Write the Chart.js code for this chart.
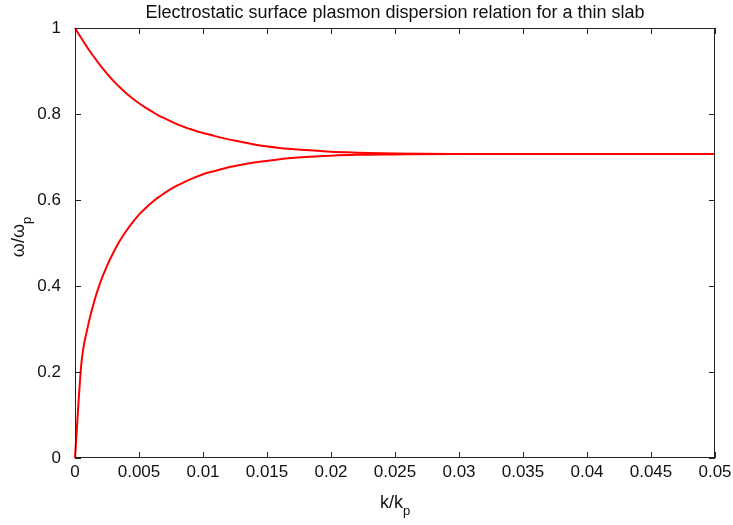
<!DOCTYPE html>
<html>
<head>
<meta charset="utf-8">
<script src="https://cdn.jsdelivr.net/npm/chart.js@4.4.1/dist/chart.umd.min.js"></script>
<style>
  html, body { margin: 0; padding: 0; background: #fff; }
  #wrap { width: 733px; height: 525px; }
</style>
</head>
<body>
<div id="wrap"><canvas id="plot"></canvas></div>
<script>
// k/kp sample points and the two branches
var ks = [0, 0.0005, 0.001, 0.0015, 0.002, 0.0025, 0.003, 0.0035, 0.004, 0.0045,
          0.005, 0.0055, 0.006, 0.0065, 0.007, 0.0075, 0.008, 0.0085, 0.009, 0.0095,
          0.01, 0.011, 0.012, 0.013, 0.014, 0.016, 0.018, 0.02, 0.022, 0.025,
          0.03, 0.035, 0.04, 0.045, 0.05];
var lowerBranch = [0, 0.22, 0.305, 0.364, 0.41, 0.447, 0.478, 0.505, 0.528, 0.548,
                   0.566, 0.581, 0.594, 0.606, 0.616, 0.626, 0.634, 0.641, 0.648, 0.654,
                   0.66, 0.668, 0.676, 0.682, 0.687, 0.695, 0.700, 0.703, 0.705, 0.706,
                   0.707, 0.707, 0.707, 0.707, 0.707];
var upperBranch = [1, 0.976, 0.953, 0.932, 0.912, 0.894, 0.877, 0.862, 0.848, 0.836,
                   0.825, 0.815, 0.806, 0.797, 0.79, 0.783, 0.776, 0.77, 0.765, 0.76,
                   0.756, 0.748, 0.741, 0.735, 0.729, 0.721, 0.716, 0.712, 0.710, 0.708,
                   0.7072, 0.7071, 0.7071, 0.7071, 0.7071];
var xTicks = [0, 0.005, 0.01, 0.015, 0.02, 0.025, 0.03, 0.035, 0.04, 0.045, 0.05];
var yTicks = [0, 0.2, 0.4, 0.6, 0.8, 1];

var FONT = '"Liberation Sans", Arial, Helvetica, sans-serif';

function pts(ys) {
    return ks.map(function (k, i) { return { x: k, y: ys[i] }; });
}
function fmt(v) { return String(+v.toFixed(4)); }

// box, inward ticks on all four sides, title and axis labels with subscripts
var frame = {
    id: 'frame',
    afterDraw: function (chart) {
        var c = chart.ctx, a = chart.chartArea;
        var sx = chart.scales.x, sy = chart.scales.y;
        c.save();
        c.strokeStyle = '#222';
        c.lineWidth = 1;
        c.strokeRect(a.left + 0.5, a.top + 0.5, a.right - a.left - 1, a.bottom - a.top - 1);
        c.beginPath();
        xTicks.forEach(function (v) {
            var x = Math.round(sx.getPixelForValue(v)) + 0.5;
            c.moveTo(x, a.bottom); c.lineTo(x, a.bottom - 6);
            c.moveTo(x, a.top); c.lineTo(x, a.top + 6);
        });
        yTicks.forEach(function (v) {
            var y = Math.round(sy.getPixelForValue(v)) + 0.5;
            c.moveTo(a.left, y); c.lineTo(a.left + 6, y);
            c.moveTo(a.right, y); c.lineTo(a.right - 6, y);
        });
        c.stroke();

        c.fillStyle = '#111';
        c.textBaseline = 'middle';
        c.textAlign = 'center';
        c.font = '18px ' + FONT;
        c.fillText('Electrostatic surface plasmon dispersion relation for a thin slab', (a.left + a.right) / 2, 13);

        // x title: k/kp
        c.font = '18px ' + FONT;
        var main = 'k/k', w1 = c.measureText(main).width;
        c.font = '13px ' + FONT;
        var w2 = c.measureText('p').width;
        var x0 = (a.left + a.right) / 2 - (w1 + w2) / 2;
        c.textAlign = 'left';
        c.font = '18px ' + FONT;
        c.fillText(main, x0, 503);
        c.font = '13px ' + FONT;
        c.fillText('p', x0 + w1, 511);

        // y title: ω/ωp, rotated
        c.translate(19, (a.top + a.bottom) / 2 - 6);
        c.rotate(-Math.PI / 2);
        c.font = '18px ' + FONT;
        main = '\u03c9/\u03c9';
        w1 = c.measureText(main).width;
        c.font = '13px ' + FONT;
        w2 = c.measureText('p').width;
        x0 = -(w1 + w2) / 2;
        c.font = '18px ' + FONT;
        c.fillText(main, x0, 0);
        c.font = '13px ' + FONT;
        c.fillText('p', x0 + w1, 8);
        c.restore();
    }
};

new Chart(document.getElementById('plot'), {
    type: 'line',
    data: {
        datasets: [
            { label: 'lower', data: pts(lowerBranch), borderColor: '#ff0000', borderWidth: 2,
              pointRadius: 0, cubicInterpolationMode: 'monotone', clip: false },
            { label: 'upper', data: pts(upperBranch), borderColor: '#ff0000', borderWidth: 2,
              pointRadius: 0, cubicInterpolationMode: 'monotone', clip: false }
        ]
    },
    options: {
        responsive: true,
        maintainAspectRatio: false,
        animation: false,
        layout: { padding: { top: 28, right: 18, left: 0, bottom: 0 } },
        plugins: { legend: { display: false }, tooltip: { enabled: false }, title: { display: false } },
        scales: {
            x: {
                type: 'linear', min: 0, max: 0.05,
                grid: { display: false }, border: { display: false },
                afterBuildTicks: function (s) { s.ticks = xTicks.map(function (v) { return { value: v }; }); },
                afterFit: function (s) { s.height = 67; s.paddingLeft = 0; s.paddingRight = 0; },
                ticks: { color: '#111', padding: -4, maxRotation: 0, autoSkip: false,
                         font: { family: FONT, size: 17 }, callback: fmt }
            },
            y: {
                type: 'linear', min: 0, max: 1,
                grid: { display: false }, border: { display: false },
                afterBuildTicks: function (s) { s.ticks = yTicks.map(function (v) { return { value: v }; }); },
                afterFit: function (s) { s.width = 75; s.paddingTop = 0; s.paddingBottom = 0; },
                ticks: { color: '#111', padding: 6, autoSkip: false,
                         font: { family: FONT, size: 17 }, callback: fmt }
            }
        }
    },
    plugins: [frame]
});
</script>
</body>
</html>
